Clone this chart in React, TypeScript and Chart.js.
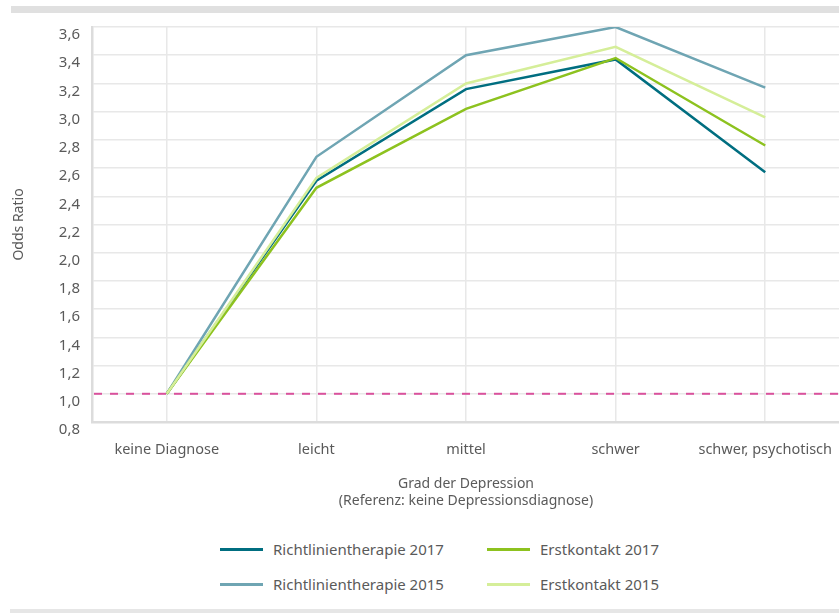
import React, { useEffect, useRef } from "react";
import { Chart, registerables } from "chart.js";

Chart.register(...registerables);

const categories = ["keine Diagnose", "leicht", "mittel", "schwer", "schwer, psychotisch"];
const richtlinie2017 = [1.0, 2.51, 3.16, 3.37, 2.57];
const erstkontakt2017 = [1.0, 2.46, 3.02, 3.38, 2.76];
const richtlinie2015 = [1.0, 2.68, 3.4, 3.6, 3.17];
const erstkontakt2015 = [1.0, 2.53, 3.2, 3.46, 2.96];
const referenceValue = 1.0;
const yMin = 0.8;
const yMax = 3.6;
const yStep = 0.2;

const FONT = "'Noto Sans', sans-serif";
const TEXT = "#5a5a5a";
const C_R17 = "#006e80";
const C_R15 = "#6fa5b3";
const C_E17 = "#8dc21f";
const C_E15 = "#d5ee99";
const C_REF = "#d9519c";

const legendItems = [
  { label: "Richtlinientherapie 2017", color: C_R17, x: 220, y: 549 },
  { label: "Erstkontakt 2017", color: C_E17, x: 487, y: 549 },
  { label: "Richtlinientherapie 2015", color: C_R15, x: 220, y: 584 },
  { label: "Erstkontakt 2015", color: C_E15, x: 487, y: 584 },
];

const refLinePlugin = {
  id: "refLine",
  afterDatasetsDraw(chart: any) {
    const { ctx, chartArea, scales } = chart;
    const y = scales.y.getPixelForValue(referenceValue);
    ctx.save();
    ctx.strokeStyle = C_REF;
    ctx.lineWidth = 2;
    ctx.setLineDash([8, 8]);
    ctx.beginPath();
    ctx.moveTo(chartArea.left + 2, y);
    ctx.lineTo(chartArea.right, y);
    ctx.stroke();
    ctx.restore();
  },
};

export default function App() {
  const canvasRef = useRef<HTMLCanvasElement | null>(null);

  useEffect(() => {
    const ctx = canvasRef.current!;
    const mk = (label: string, data: number[], color: string, order: number) => ({
      label,
      data,
      borderColor: color,
      backgroundColor: color,
      borderWidth: 2.5,
      pointRadius: 0,
      tension: 0,
      order,
    });
    const chart = new Chart(ctx, {
      type: "line",
      data: {
        labels: categories,
        datasets: [
          mk("Richtlinientherapie 2017", richtlinie2017, C_R17, 2),
          mk("Erstkontakt 2017", erstkontakt2017, C_E17, 1),
          mk("Richtlinientherapie 2015", richtlinie2015, C_R15, 3),
          mk("Erstkontakt 2015", erstkontakt2015, C_E15, 0),
        ],
      },
      options: {
        animation: false,
        responsive: false,
        maintainAspectRatio: false,
        layout: { padding: { top: 27, left: 0, right: 0, bottom: 0 } },
        plugins: {
          legend: { display: false },
          tooltip: { enabled: false },
        },
        scales: {
          x: {
            offset: true,
            grid: { color: "#e8e8e8", lineWidth: 1.5, offset: false, drawTicks: false },
            border: { color: "#dcdcdc", width: 2.5 },
            ticks: { color: TEXT, font: { family: FONT, size: 14.5 }, padding: 19, maxRotation: 0 },
            title: {
              display: true,
              text: ["Grad der Depression", "(Referenz: keine Depressionsdiagnose)"],
              color: TEXT,
              font: { family: FONT, size: 14, lineHeight: 1.2 },
              padding: { top: 0, bottom: 11 },
            },
            afterFit(scale: any) {
              scale.height = 98;
            },
          },
          y: {
            min: yMin,
            max: yMax,
            grid: { color: "#e8e8e8", lineWidth: 1.5, drawTicks: false },
            border: { color: "#dcdcdc", width: 2.5 },
            ticks: {
              stepSize: yStep,
              color: TEXT,
              font: { family: FONT, size: 15 },
              padding: 12,
              labelOffset: 8,
              callback: (v: any) => Number(v).toFixed(1).replace(".", ","),
            },
            title: {
              display: true,
              text: "Odds Ratio",
              color: TEXT,
              font: { family: FONT, size: 14, lineHeight: 1.2 },
              padding: { top: 11, bottom: 0 },
            },
            afterFit(scale: any) {
              scale.width = 92;
            },
          },
        },
      },
      plugins: [refLinePlugin],
    });
    return () => chart.destroy();
  }, []);

  return (
    <div style={{ position: "absolute", left: 0, top: 0, width: 839, height: 613, background: "#fff", overflow: "hidden" }}>
      <div style={{ position: "absolute", left: 11, top: 6, right: 0, height: 7, background: "#e0e0e0" }} />
      <canvas ref={canvasRef} width={851} height={520} style={{ position: "absolute", left: 0, top: 0, width: 851, height: 520 }} />
      {legendItems.map((it) => (
        <div key={it.label} style={{ position: "absolute", left: it.x, top: it.y - 12, height: 24, display: "flex", alignItems: "center", fontFamily: FONT, fontSize: 15, color: TEXT, whiteSpace: "nowrap" }}>
          <span style={{ display: "inline-block", width: 43, height: 3, background: it.color, marginRight: 10 }} />
          <span>{it.label}</span>
        </div>
      ))}
      <div style={{ position: "absolute", left: 10, top: 609, right: 0, height: 4, background: "#e6e6e6" }} />
    </div>
  );
}
